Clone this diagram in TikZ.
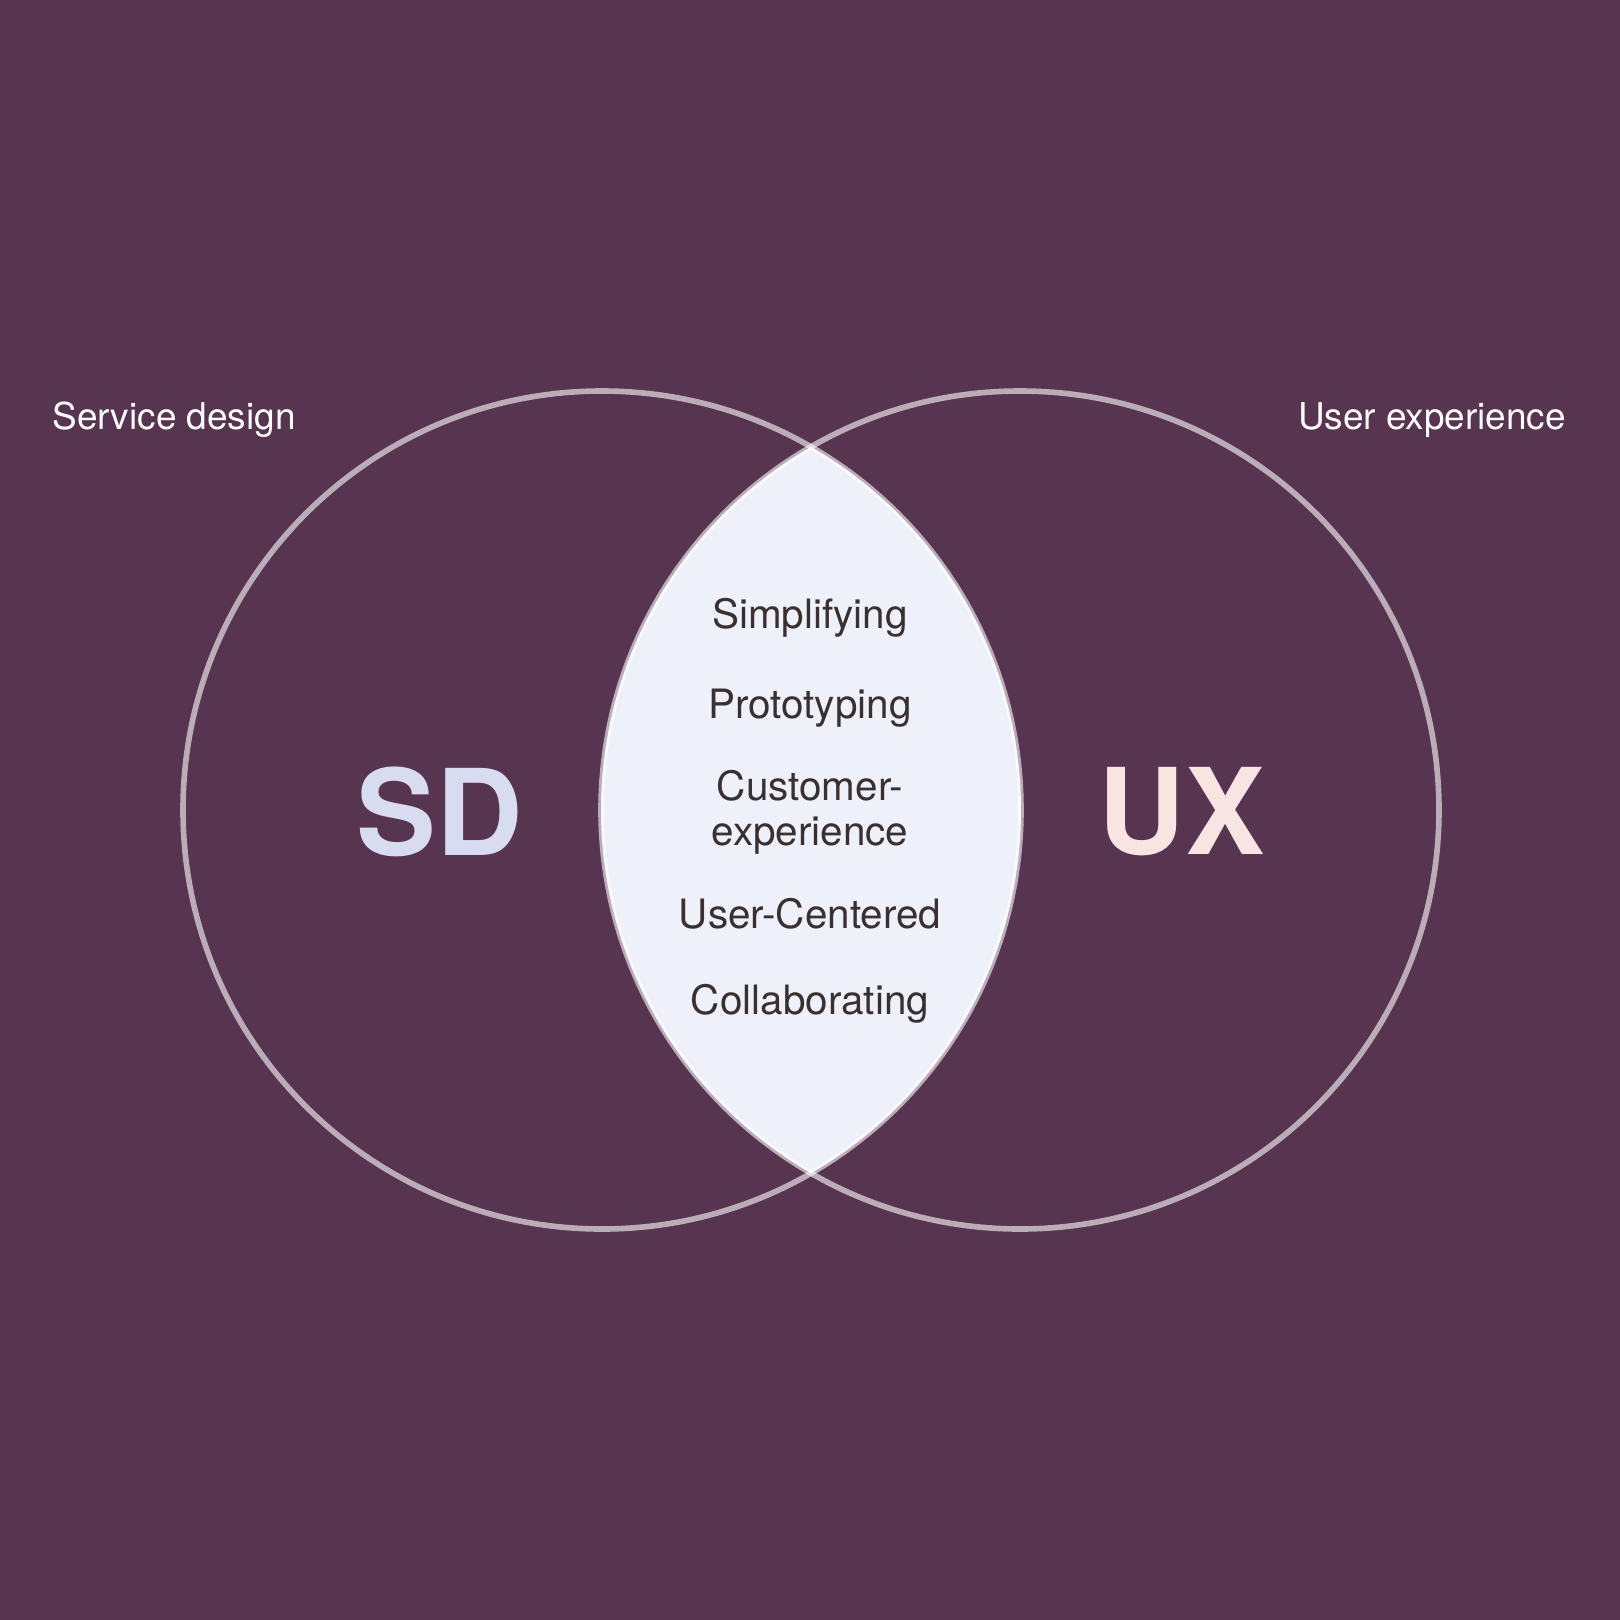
\documentclass[tikz,border=0pt]{standalone}
\usepackage{fontspec}
\setmainfont{TeX Gyre Heros}
\definecolor{bg}{HTML}{57344F}
\definecolor{lens}{HTML}{EEF1FA}
\definecolor{sdc}{HTML}{D8DCF0}
\definecolor{uxc}{HTML}{F8E4E0}
\definecolor{ink}{HTML}{3A3030}
\begin{document}
\begin{tikzpicture}[x=0.01cm,y=-0.01cm,
  ring/.style={draw=white,draw opacity=0.6,line width=1.6pt},
  item/.style={text=ink,font=\fontsize{11.5}{13}\selectfont},
  lbl/.style={text=white,font=\fontsize{10.5}{12}\selectfont},
  big/.style={font=\fontsize{34}{38}\selectfont\bfseries}]
\fill[bg] (0,0) rectangle (1620,1620);
\useasboundingbox (0,0) rectangle (1620,1620);
\coordinate (cl) at (602,810);
\coordinate (cr) at (1020,810);
\begin{scope}
\clip (cl) circle (419);
\fill[lens] (cr) circle (419);
\end{scope}
\draw[ring] (cl) circle (419);
\draw[ring] (cr) circle (419);
\node[lbl] (sdl) at (174,420) {Service design};
\node[lbl] (uxl) at (1432,420) {User experience};
\node[big,text=sdc] (sd) at (440,812) {SD};
\node[big,text=uxc] (ux) at (1182,812) {UX};
\node[item] (a) at (810,618) {Simplifying};
\node[item] (b) at (810,708) {Prototyping};
\node[item] (c) at (810,786) {Customer-};
\node[item] (d) at (810,836) {experience};
\node[item] (e) at (810,914) {User-Centered};
\node[item] (f) at (810,1004) {Collaborating};
\end{tikzpicture}
\end{document}
